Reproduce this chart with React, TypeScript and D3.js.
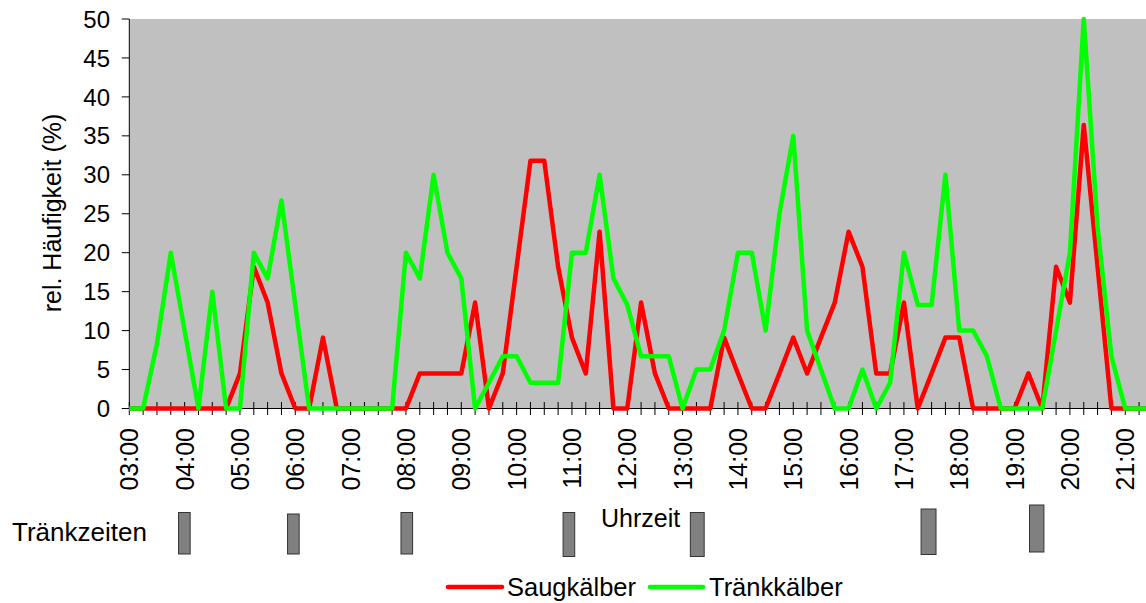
import React from "react";
import * as d3 from "d3";

// ---- data ----
// quarter-hour slots starting at 03:00 (index i => 3 + i/4 hours)
const saugkaelber: number[] = [
  0, 0, 0, 0, 0, 0, 0, 0, 4.5, 18.2, 13.6, 4.5, 0, 0, 9.1, 0, 0, 0, 0, 0,
  0, 4.5, 4.5, 4.5, 4.5, 13.6, 0, 4.5, 18.2, 31.8, 31.8, 18.2, 9.1, 4.5, 22.7, 0, 0, 13.6, 4.5, 0,
  0, 0, 0, 9.1, 4.5, 0, 0, 4.5, 9.1, 4.5, 9.1, 13.6, 22.7, 18.2, 4.5, 4.5, 13.6, 0, 4.5, 9.1,
  9.1, 0, 0, 0, 0, 4.5, 0, 18.2, 13.6, 36.4, 18.2, 0, 0, 0, 0,
];
const traenkkaelber: number[] = [
  0, 0, 8.3, 20, 10, 0, 15, 0, 0, 20, 16.7, 26.7, 13.3, 0, 0, 0, 0, 0, 0, 0,
  20, 16.7, 30, 20, 16.7, 0, 3.3, 6.7, 6.7, 3.3, 3.3, 3.3, 20, 20, 30, 16.7, 13.3, 6.7, 6.7, 6.7,
  0, 5, 5, 10, 20, 20, 10, 25, 35, 10, 5, 0, 0, 5, 0, 3.3, 20, 13.3, 13.3, 30,
  10, 10, 6.7, 0, 0, 0, 0, 10, 20, 50, 23.3, 6.7, 0, 0, 0,
];
const hourLabels: string[] = [
  "03:00", "04:00", "05:00", "06:00", "07:00", "08:00", "09:00", "10:00", "11:00", "12:00",
  "13:00", "14:00", "15:00", "16:00", "17:00", "18:00", "19:00", "20:00", "21:00",
];
const yTicks: number[] = [0, 5, 10, 15, 20, 25, 30, 35, 40, 45, 50];
// feeding times (start, end) in decimal hours
const feedStart: number[] = [3.89, 5.86, 7.91, 10.84, 13.14, 17.31, 19.27];
const feedEnd: number[] = [4.10, 6.07, 8.12, 11.05, 13.39, 17.58, 19.53];

// ---- layout ----
const W = 1146;
const H = 603;
const plotLeft = 129.3;
const plotRight = 1146;
const plotTop = 19;
const plotBottom = 408.5;
const feedMarkTop: number[] = [512.5, 514, 512.5, 512.5, 512.5, 509, 505];
const feedMarkBottom: number[] = [554, 554, 554, 556.5, 556.5, 554.5, 552];
const FONT = "'Liberation Sans', Arial, sans-serif";

export default function App() {
  const x = d3.scaleLinear().domain([3, 3 + 73.5 / 4]).range([plotLeft, plotRight]);
  const y = d3.scaleLinear().domain([0, 50]).range([plotBottom, plotTop]);
  const hourOf = (i: number) => 3 + i / 4;
  const line = d3
    .line<number>()
    .x((_, i) => x(hourOf(i)))
    .y((d) => y(d));

  const minorTicks = d3.range(0, 74).map(hourOf);

  return (
    <svg
      width={W}
      height={H}
      style={{ position: "fixed", left: 0, top: 0, background: "#fff" }}
      fontFamily={FONT}
    >
      <defs>
        <clipPath id="plotClip">
          <rect x={plotLeft - 5} y={0} width={plotRight - plotLeft + 5} height={plotBottom + 5} />
        </clipPath>
      </defs>
      <rect x={plotLeft} y={plotTop} width={plotRight - plotLeft} height={plotBottom - plotTop} fill="#C0C0C0" />

      {/* y axis */}
      <line x1={plotLeft} x2={plotLeft} y1={plotTop} y2={plotBottom} stroke="#000" strokeWidth={1} />
      {yTicks.map((t) => (
        <g key={t}>
          <line x1={plotLeft - 7.5} x2={plotLeft} y1={y(t)} y2={y(t)} stroke="#000" strokeWidth={1} />
          <text x={110} y={y(t)} dy="0.36em" textAnchor="end" fontSize={24} fill="#000">
            {t}
          </text>
        </g>
      ))}
      <text transform={`translate(61, 213) rotate(-90)`} textAnchor="middle" fontSize={25} fill="#000">
        rel. Häufigkeit (%)
      </text>

      {/* x axis */}
      <line x1={plotLeft} x2={plotRight} y1={plotBottom} y2={plotBottom} stroke="#000" strokeWidth={1} />
      {minorTicks.map((h, i) => (
        <line key={i} x1={x(h)} x2={x(h)} y1={plotBottom - 6.5} y2={plotBottom + 6.5} stroke="#000" strokeWidth={1} />
      ))}
      {hourLabels.map((lab, k) => (
        <text
          key={lab}
          transform={`translate(${x(3 + k)}, 428) rotate(-90)`}
          dy="0.36em"
          textAnchor="end"
          fontSize={25}
          fill="#000"
        >
          {lab}
        </text>
      ))}
      <text x={601} y={527} fontSize={25} fill="#000">
        Uhrzeit
      </text>

      {/* lines (drawn over the axes) */}
      <g clipPath="url(#plotClip)">
        <path d={line(saugkaelber) || ""} fill="none" stroke="#FF0000" strokeWidth={4.5} strokeLinejoin="round" />
        <path d={line(traenkkaelber) || ""} fill="none" stroke="#00FF00" strokeWidth={4.5} strokeLinejoin="round" />
      </g>

      {/* feeding times */}
      <text x={12} y={541} fontSize={26} fill="#000">
        Tränkzeiten
      </text>
      {feedStart.map((s, k) => (
        <rect
          key={k}
          x={x(s)}
          y={feedMarkTop[k]}
          width={x(feedEnd[k]) - x(s)}
          height={feedMarkBottom[k] - feedMarkTop[k]}
          fill="#808080"
          stroke="#333"
          strokeWidth={1}
        />
      ))}

      {/* legend */}
      <line x1={448} x2={502} y1={587} y2={587} stroke="#FF0000" strokeWidth={4.5} strokeLinecap="round" />
      <text x={507} y={596} fontSize={25.5} fill="#000">
        Saugkälber
      </text>
      <line x1={650} x2={703} y1={587} y2={587} stroke="#00FF00" strokeWidth={4.5} strokeLinecap="round" />
      <text x={709} y={596} fontSize={25.5} fill="#000">
        Tränkkälber
      </text>
    </svg>
  );
}
